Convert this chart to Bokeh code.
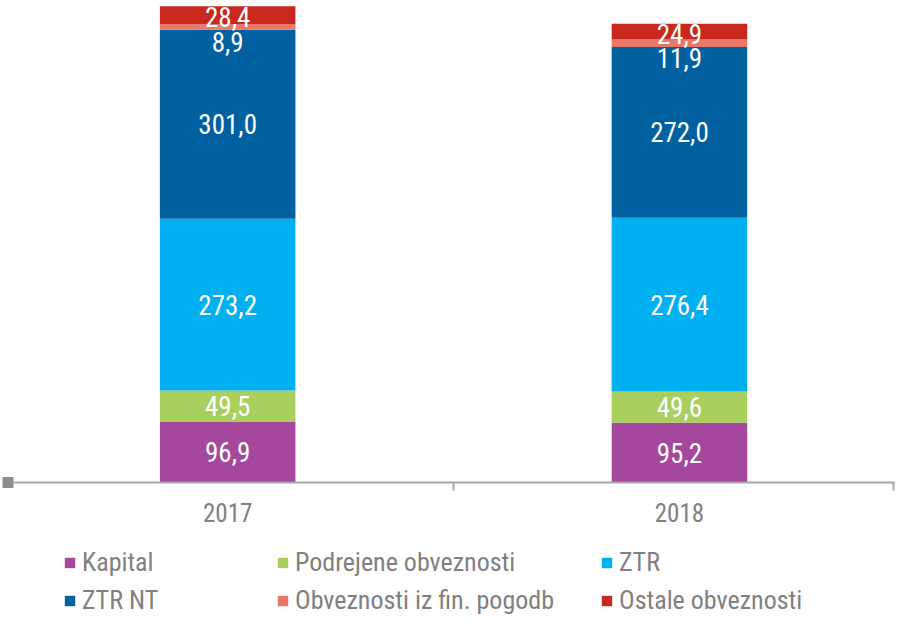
import numpy as np
from bokeh.plotting import figure
from bokeh.layouts import column
from bokeh.models import ColumnDataSource, FixedTicker, Legend, LegendItem, Range1d
from bokeh.core.properties import value
from bokeh.embed import file_html
from bokeh.resources import INLINE

# ---- data ----
years = ["2017", "2018"]
kapital = [96.9, 95.2]
podrejene = [49.5, 49.6]
ztr = [273.2, 276.4]
ztr_nt = [301.0, 272.0]
fin_pogodbe = [8.9, 11.9]
ostale = [28.4, 24.9]
series_names = ["Kapital", "Podrejene obveznosti", "ZTR", "ZTR NT",
                "Obveznosti iz fin. pogodb", "Ostale obveznosti"]
colors = ["#A5479C", "#A9D05F", "#00B0F0", "#0060A0", "#E8796A", "#C9281E"]

# ---- style ----
FONT = "Liberation Sans Narrow, Roboto Condensed, Roboto"
GREY = "#808080"
label_dy = [0, 0, 0, 0, 15, 2]   # pixel nudges for the crowded top labels

series = [kapital, podrejene, ztr, ztr_nt, fin_pogodbe, ostale]
keys = [f"s{i}" for i in range(len(series))]
x = list(range(len(years)))
data = {"x": x}
for k, s in zip(keys, series):
    data[k] = s
src = ColumnDataSource(data)

p = figure(width=896, height=545,
           x_range=Range1d(-0.474, 1.476), y_range=Range1d(0, 767),
           output_backend="svg", toolbar_location=None,
           min_border_left=13, min_border_right=2, min_border_top=0, min_border_bottom=63)
p.outline_line_color = None
p.grid.visible = False

renderers = p.vbar_stack(keys, x="x", width=0.3, color=colors, line_color=None, source=src)

# value labels at segment centres
arr = np.array(series)
tops = np.cumsum(arr, axis=0)
mids = tops - arr / 2
lx, ly, lt, lo = [], [], [], []
for i in range(arr.shape[0]):
    for j in range(arr.shape[1]):
        lx.append(x[j]); ly.append(mids[i, j]); lo.append(label_dy[i])
        lt.append(f"{arr[i, j]:.1f}".replace(".", ","))
lsrc = ColumnDataSource(dict(x=lx, y=ly, t=lt, o=lo))
p.text(x="x", y="y", text="t", y_offset="o", source=lsrc, text_color="white",
       text_align="center", text_baseline="middle",
       text_font=value(FONT), text_font_size="27px")

# y axis: only the small square at the origin
p.yaxis.ticker = FixedTicker(ticks=[0])
p.yaxis.major_label_overrides = {0: ""}
p.yaxis.major_label_standoff = 0
p.yaxis.axis_line_color = None
p.yaxis.major_tick_line_color = "#8C8C8C"
p.yaxis.major_tick_line_width = 11
p.yaxis.major_tick_out = 11
p.yaxis.major_tick_in = 0
p.yaxis.minor_tick_line_color = None

# x axis
p.xaxis.ticker = FixedTicker(ticks=x, minor_ticks=[0.5, 1.474])
p.xaxis.major_label_overrides = {i: y for i, y in zip(x, years)}
p.xaxis.major_tick_line_color = None
p.xaxis.major_tick_out = 0
p.xaxis.major_tick_in = 0
p.xaxis.minor_tick_line_color = "#A6A6A6"
p.xaxis.minor_tick_line_width = 2
p.xaxis.minor_tick_out = 8
p.xaxis.minor_tick_in = 0
p.xaxis.axis_line_color = "#A6A6A6"
p.xaxis.axis_line_width = 2
p.xaxis.major_label_standoff = 12
p.xaxis.major_label_text_font = FONT
p.xaxis.major_label_text_font_size = "25px"
p.xaxis.major_label_text_color = GREY

# ---- legend in its own strip below ----
lp = figure(width=896, height=70, x_range=Range1d(0, 1), y_range=Range1d(0, 1),
            output_backend="svg", toolbar_location=None,
            min_border_left=13, min_border_right=2, min_border_top=0, min_border_bottom=0)
lp.axis.visible = False
lp.grid.visible = False
lp.outline_line_color = None
# swatch renderers for the legend only (their single bar has no position, so it is not drawn)
swatches = [lp.vbar(x=[np.nan], bottom=[np.nan], top=[np.nan], width=0.1,
                    color=c, line_color=None) for c in colors]

col_offsets = [50, 263, 587]
for c in range(3):
    its = [LegendItem(label=series_names[i], renderers=[swatches[i]]) for i in (c, c + 3)]
    lg = Legend(items=its, location=(col_offsets[c], 0),
                margin=0, padding=0, spacing=8, border_line_color=None,
                background_fill_alpha=0, glyph_width=13, glyph_height=13,
                label_standoff=6, label_text_font=FONT, label_text_font_size="26px",
                label_text_color=GREY, label_height=20)
    lp.add_layout(lg, "center")

layout = column(p, lp, spacing=0)
open("out.html", "w").write(file_html(layout, INLINE))
